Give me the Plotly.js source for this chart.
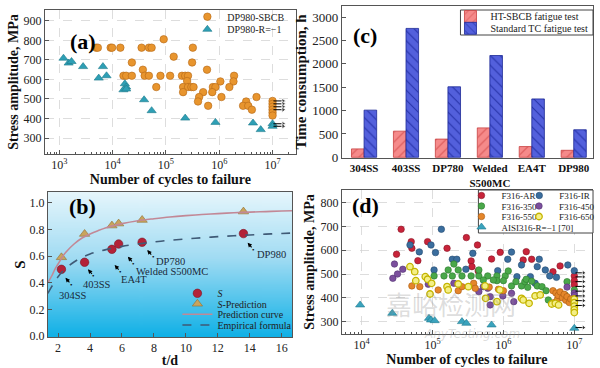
<!DOCTYPE html>
<html><head><meta charset="utf-8">
<script src="https://cdn.plot.ly/plotly-3.0.1.min.js"></script>
<style>html,body{margin:0;padding:0;background:#fff}#chart{width:600px;height:368px}</style>
</head><body><div id="chart"></div>
<script>
// ================= DATA =================
// (a) DP980 S-N data
const aSbcbN = [4.9e3,5.3e3,9.2e3,9.8e3,1.4e4,3.5e4,4.8e4,5.4e4,3.2e5, 9.1e4, 1.4e5, 2.3e4,3.1e5, 3.7e4,5.9e5,
  1.6e4,1.8e4,2.3e4,4.0e4,4.8e4,7.9e4,1.2e5,2.0e5,2.3e5,2.6e5,1.9e6, 2.5e5,1.05e6,1.85e6,
  6.6e4,2.1e5,2.6e5,3.0e5,3.3e5,7.6e5,8.5e5,1.55e6, 2.1e5,5.0e5,7.4e5, 4.2e5,1.1e6,5.0e6, 4.0e5,3.2e6,
  6.2e5,2.8e6,3.5e6, 4.1e6, 1e7,1e7,1e7,1e7,1e7,1e7];
const aSbcbS = [763,763,763,763,763,763,763,763,763, 806, 717, 687,687, 650,650,
  619,619,619,619,619,619,619,619,619,619,619, 592,590,590,
  561,561,561,561,561,561,561,561, 535,535,535, 510,510,510, 487,487,
  465,465,465, 445, 490,475,460,445,430,415];
const aRN = [1.2e3,1.5e3,1.7e3,2.8e3,5.5e3,6.6e3,7.7e3,1.7e4,1.8e4,1.6e4,1.8e4,3.9e4,5.4e4,2.3e5,8.5e5,4.3e6,6.0e6,1e7,1e7];
const aRS = [709,684,692,666,607,666,619,578,561,547,551,496,440,402,380,377,343,373,360];
const aRunoutSbcb = [490,475,460,445];
const aRunoutR = [373,360];
const runoutCycles = 1e7;
const aTickVals = [1e3,1e4,1e5,1e6,1e7];
const aTickText = ['10<sup>3</sup>','10<sup>4</sup>','10<sup>5</sup>','10<sup>6</sup>','10<sup>7</sup>'];

// (c) time consumption
const cMaterials = ['304SS','403SS','DP780','Welded<br>S500MC','EA4T','DP980'];
const cSbcbHours = [180,560,390,630,230,150];
const cStdHours = [1010,2760,1510,2180,1250,590];

// (b) S vs t/d
const bTd = [2.21,3.66,5.37,5.79,7.26,13.6];
const bS = [0.50,0.553,0.65,0.69,0.703,0.768];
const bSPred = [0.59,0.765,0.828,0.843,0.87,0.933];
const bLabels = ['304SS','403SS','EA4T','Welded S500MC','DP780','DP980'];
const predTd = [1.36,1.6,1.8,2.0,2.25,2.5,3.0,3.5,4.0,4.5,5.0,5.5,6.0,7.0,8.0,9.0,10,11,12,13,14,15,16,16.64];
const predS  = [0.40,0.45,0.50,0.54,0.59,0.63,0.69,0.735,0.765,0.79,0.812,0.828,0.843,0.865,0.88,0.893,0.903,0.911,0.918,0.924,0.929,0.933,0.937,0.939];
const empTd = [1.36,1.6,1.8,2.0,2.25,2.5,3.0,3.5,4.0,4.5,5.0,5.5,6.0,7.0,8.0,9.0,10,11,12,13,14,15,16,16.64];
const empS  = [0.32,0.37,0.41,0.445,0.48,0.51,0.555,0.59,0.615,0.633,0.648,0.66,0.672,0.69,0.705,0.718,0.728,0.737,0.745,0.752,0.758,0.764,0.769,0.772];

// (d) F316 S-N data
const dArN = [3.6e4,5.0e4,5.1e4,3.1e4,6.2e4,8.5e4,1.6e5,3.0e5,4.3e5,3.5e5,3.6e5,4.4e5,6.8e5,9.0e5,1.9e6,2.1e6,2.5e6,5.0e6,6.3e6,1e7,1e7,1e7];
const dArS = [688,636,608,583,556,636,608,653,622,555,531,513,563,591,559,594,562,510,534,492,472,455];
const dIrN = [4.8e4,6.5e4,9.5e4,1.1e5,1.05e5,1.33e5,1.9e5,2.2e5,2.95e5,3.7e5,8.3e5,1.15e6,1.3e6,1.55e6,1.8e6,2.4e6,2.8e6,3.0e6,3.2e6,3.9e6,4.5e6,5.6e6,8.1e6,1e7];
const dIrS = [622,593,622,590,517,688,562,562,520,587,514,562,592,489,538,489,461,531,562,517,492,486,538,514];
const d350N = [1.05e5,1.45e5,1.9e5,2.6e5,3.5e5,4.5e5,6.0e5,8.1e5,1.06e6,1.66e5,2.3e5,4.5e5,2.0e5,8.1e5,1.0e6,1.17e6,1.3e6,1.5e6,1.8e6,2.0e6,2.2e6,3.0e6,3.5e6,2.1e6,2.5e6,4.0e6,4.3e6,6.5e6,7.4e6,7.9e6,1e7,5.2e5,7.2e5];
const d350S = [492,492,492,492,492,492,492,492,492,517,517,517,542,472,472,513,450,468,450,468,444,450,447,478,470,430,391,412,412,468,433,475,475];
const d450N = [2.9e4,2.75e4,3.2e4,3.8e4,8.7e4,2.0e5,4.5e5,5.2e5,6.0e5,6.5e5,6.5e5,9.8e5,1.3e6,1.4e6,7.9e6,1e7,1e7];
const d450S = [542,482,500,520,457,461,426,447,440,405,370,408,419,384,445,420,410];
const d550N = [5.1e4,6.6e4,1.2e5,2.3e5,2.6e5,3.8e5,4.0e5,6.3e5,8.5e5,1.0e6,5.0e6,5.2e6,5.5e6,5.8e6,5.9e6,6.3e6,6.8e6,7.2e6,7.6e6,7.9e6,8.5e6,8.9e6,1e7,1e7,1e7];
const d550S = [450,447,433,430,447,461,440,445,436,430,430,380,420,395,410,425,400,415,390,405,380,395,385,370,355];
const d650N = [4.8e4,5.6e4,5.8e4,7.9e4,8.5e4,9.2e4,9.7e4,1.6e5,1.66e5,2.3e5,3.2e5,5.5e5,5.6e5,8.1e5,8.9e5,1.8e6,1.9e6,2.3e6,2.8e6,3.3e6,4.8e6,5.4e6,6.0e6,1e7,1e7,1e7,1e7,1e7];
const d650S = [531,510,472,489,478,416,461,447,433,458,447,450,398,384,433,398,391,377,408,412,374,377,370,395,380,365,350,338];
const dAisiN = [9.5e3,2.7e4,8.9e4,9.5e4,1.07e5,2.6e5,3.0e5,6.8e5,1e7];
const dAisiS = [370,335,314,307,304,300,293,286,272];
const dRunoutS = [505,488,468,448,428,408,388,368,275];
const dTickVals = [1e4,1e5,1e6,1e7];
const dTickText = ['10<sup>4</sup>','10<sup>5</sup>','10<sup>6</sup>','10<sup>7</sup>'];

// ================= STYLE / LAYOUT =================
const W = 600, H = 368;
const SERIF = '"Liberation Serif","Times New Roman",serif';
const px = v => v / W, py = v => 1 - v / H;

function ax(extra) {
  return Object.assign({
    showline: true, linecolor: '#555', linewidth: 1, mirror: true,
    ticks: 'inside', ticklen: 4, tickcolor: '#555', tickwidth: 1,
    tickfont: {family: SERIF, size: 12, color: '#222'},
    zeroline: false, automargin: false, showgrid: false
  }, extra);
}
const titleFont = {family: SERIF, size: 14, color: '#111'};
const gridStyle = {showgrid: true, gridcolor: '#d4d4d4', griddash: 'dash', gridwidth: 0.8};

const mk = (color, line, size, symbol) => ({color, size, symbol: symbol || 'circle', line: {color: line, width: 0.6}});

// run-out arrows (horizontal arrows starting at the run-out life)
function runoutTrace(list, xa, ya, decades) {
  const x = [], y = [], s = [];
  list.forEach(v => {
    x.push(runoutCycles * 1.04, runoutCycles * Math.pow(10, decades), null);
    y.push(v, v, null);
    s.push(0, 5, 0);
  });
  return {x, y, xaxis: xa, yaxis: ya, mode: 'lines+markers', showlegend: false, hoverinfo: 'skip',
    line: {color: '#000', width: 1}, marker: {symbol: 'triangle-right', size: s, color: '#000'}};
}

const traces = [
  // (a)
  {x: aSbcbN, y: aSbcbS, xaxis: 'x', yaxis: 'y', mode: 'markers', name: 'DP980-SBCB', legend: 'legend',
   marker: mk('#e8952e', '#b36615', 7.5)},
  {x: aRN, y: aRS, xaxis: 'x', yaxis: 'y', mode: 'markers', name: 'DP980-R=−1', legend: 'legend2',
   marker: mk('#2e9fb5', '#1d7a8c', 8, 'triangle-up')},
  // (c)
  {x: cMaterials, y: cSbcbHours, xaxis: 'x2', yaxis: 'y2', type: 'bar', name: 'HT-SBCB fatigue test', legend: 'legend3',
   marker: {color: '#f58383', line: {color: '#c84040', width: 0.8},
            pattern: {shape: '/', fgcolor: '#d95555', bgcolor: '#f58a8a', size: 7, solidity: 0.15}}},
  {x: cMaterials, y: cStdHours, xaxis: 'x2', yaxis: 'y2', type: 'bar', name: 'Standard TC fatigue test', legend: 'legend4',
   marker: {color: '#4c58d8', line: {color: '#1c2896', width: 0.8},
            pattern: {shape: '\\', fgcolor: '#2632a8', bgcolor: '#5360dc', size: 7, solidity: 0.15}}},
  // (b)
  {x: bTd, y: bS, xaxis: 'x3', yaxis: 'y3', mode: 'markers', name: '<i>S</i>', legend: 'legend5',
   marker: mk('#b32238', '#7c1424', 8.5)},
  {x: bTd, y: bSPred, xaxis: 'x3', yaxis: 'y3', mode: 'markers', name: '<i>S</i>-Prediction', legend: 'legend6',
   marker: mk('#c9a45c', '#8f6e30', 9, 'triangle-up')},
  {x: predTd, y: predS, xaxis: 'x3', yaxis: 'y3', mode: 'lines', name: 'Prediction curve', legend: 'legend7',
   line: {color: '#c28896', width: 1.6, shape: 'spline'}},
  {x: empTd, y: empS, xaxis: 'x3', yaxis: 'y3', mode: 'lines', name: 'Empirical formula', legend: 'legend8',
   line: {color: '#3f5a76', width: 1.6, dash: 'dash', shape: 'spline'}},
  // (d)
  {x: dArN, y: dArS, xaxis: 'x4', yaxis: 'y4', mode: 'markers', name: 'F316-AR', legend: 'legend9', marker: mk('#c8243a', '#8a1526', 6.5)},
  {x: dIrN, y: dIrS, xaxis: 'x4', yaxis: 'y4', mode: 'markers', name: 'F316-IR', legend: 'legend10', marker: mk('#3b6e9e', '#234a70', 6.5)},
  {x: d350N, y: d350S, xaxis: 'x4', yaxis: 'y4', mode: 'markers', name: 'F316-350', legend: 'legend11', marker: mk('#4aa84a', '#2d7a2d', 6.5)},
  {x: d450N, y: d450S, xaxis: 'x4', yaxis: 'y4', mode: 'markers', name: 'F316-450', legend: 'legend12', marker: mk('#7b4f9d', '#533270', 6.5)},
  {x: d550N, y: d550S, xaxis: 'x4', yaxis: 'y4', mode: 'markers', name: 'F316-550', legend: 'legend13', marker: mk('#e5862a', '#a85a12', 6.5)},
  {x: d650N, y: d650S, xaxis: 'x4', yaxis: 'y4', mode: 'markers', name: 'F316-650', legend: 'legend14',
   marker: {color: '#f4ef86', size: 6.5, symbol: 'circle', line: {color: '#c4b400', width: 1.3}}},
  {x: dAisiN, y: dAisiS, xaxis: 'x4', yaxis: 'y4', mode: 'markers', name: 'AISI316-R=−1 [70]', legend: 'legend15',
   marker: mk('#3aa3bd', '#1f7b91', 8, 'triangle-up')},
  // run-outs
  runoutTrace(aRunoutSbcb, 'x', 'y', 0.2),
  runoutTrace(aRunoutR, 'x', 'y', 0.2),
  runoutTrace(dRunoutS, 'x4', 'y4', 0.13)
];

// one single-entry legend per item, placed at [text-start px, row centre px, font size]
const legendSpots = {
  legend: [228, 16.7, 10], legend2: [228, 29.3, 10],
  legend3: [492, 16.5, 10], legend4: [492, 28.3, 10],
  legend5: [218, 293.3, 10], legend6: [218, 303.8, 10], legend7: [218, 314.3, 10], legend8: [218, 325, 10],
  legend9: [503, 195.5, 9], legend10: [561, 195.5, 9],
  legend11: [503, 206, 9], legend12: [561, 206, 9],
  legend13: [503, 216.5, 9], legend14: [561, 216.5, 9],
  legend15: [503, 227, 9]
};

const layout = {
  width: W, height: H, margin: {l: 0, r: 0, t: 0, b: 0},
  paper_bgcolor: '#fff', plot_bgcolor: 'rgba(0,0,0,0)',
  font: {family: SERIF, color: '#111'},
  showlegend: true, barmode: 'group', bargap: 0.4, bargroupgap: 0,
  // (a)
  xaxis: ax(Object.assign({domain: [px(45), px(297)], anchor: 'y', type: 'log', range: [2.73, 7.44],
    tickmode: 'array', tickvals: aTickVals, ticktext: aTickText,
    minor: {ticks: 'inside', ticklen: 2, tickcolor: '#555', dtick: 'D1', showgrid: false},
    title: {text: '<b>Number of cycles to failure</b>', font: titleFont, standoff: 0}}, gridStyle)),
  yaxis: ax(Object.assign({domain: [py(154), py(10)], anchor: 'x', range: [218, 956], dtick: 100, tick0: 0,
    title: {text: '<b>Stress amplitude, MPa</b>', font: titleFont, standoff: 1}}, gridStyle)),
  // (c)
  xaxis2: ax({domain: [px(343), px(595)], anchor: 'y2', type: 'category', range: [-0.53, 5.46], ticks: '',
    tickfont: {family: SERIF, size: 11, color: '#111', weight: 'bold'}}),
  yaxis2: ax({domain: [py(158), py(6)], anchor: 'x2', range: [-15, 3240], dtick: 500, tick0: 0,
    tickfont: {family: SERIF, size: 13, color: '#222'},
    title: {text: '<b>Time consumption, h</b>', font: {family: SERIF, size: 15, color: '#111'}, standoff: 2}}),
  // (b)
  xaxis3: ax({domain: [px(48), px(293)], anchor: 'y3', range: [1.36, 16.64], dtick: 2, tick0: 0,
    title: {text: '<b>t/d</b>', font: titleFont, standoff: 0}}),
  yaxis3: ax({domain: [py(337), py(192)], anchor: 'x3', range: [-0.0075, 1.08], dtick: 0.2, tick0: 0, tickformat: '.1f',
    title: {text: '<b>S</b>', font: {family: SERIF, size: 15, color: '#111'}, standoff: 0}}),
  // (d)
  xaxis4: ax(Object.assign({domain: [px(343), px(594)], anchor: 'y4', type: 'log', range: [3.72, 7.25],
    tickmode: 'array', tickvals: dTickVals, ticktext: dTickText,
    minor: {ticks: 'inside', ticklen: 2, tickcolor: '#555', dtick: 'D1', showgrid: false},
    title: {text: '<b>Number of cycles to failure</b>', font: titleFont, standoff: 0}}, gridStyle)),
  yaxis4: ax(Object.assign({domain: [py(334), py(190)], anchor: 'x4', range: [248, 853], dtick: 100, tick0: 0,
    title: {text: '<b>Stress amplitude, MPa</b>', font: titleFont, standoff: 2}}, gridStyle)),
  shapes: [
    {type: 'rect', xref: 'paper', yref: 'paper', x0: px(462), x1: px(595), y0: py(35), y1: py(10),
     line: {color: '#444', width: 1}, fillcolor: '#fff', layer: 'above'},
    {type: 'rect', xref: 'paper', yref: 'paper', x0: px(480), x1: px(595), y0: py(233), y1: py(190),
     line: {color: '#444', width: 1}, fillcolor: '#fff', layer: 'above'}
  ],
  annotations: [],
  images: []
};

Object.keys(legendSpots).forEach(id => {
  const [tx, ty, fs] = legendSpots[id];
  layout[id] = {x: px(tx - 40), y: py(ty), xanchor: 'left', yanchor: 'middle', bgcolor: 'rgba(0,0,0,0)',
    borderwidth: 0, itemsizing: 'trace', font: {family: SERIF, size: fs, color: '#222'}};
});

// panel letters
[['(a)', 68, 27], ['(c)', 366, 21], ['(b)', 67, 206], ['(d)', 367, 205]].forEach(([t, x, y]) => {
  layout.annotations.push({xref: 'paper', yref: 'paper', x: px(x), y: py(y), text: '<b>' + t + '</b>',
    showarrow: false, font: {family: SERIF, size: 22, color: '#000'}});
});

// (b) material labels + small pointer arrows (dot tail, arrow head toward the curve)
const bLabelPos = [[2.94, 0.304], [4.45, 0.383], [6.77, 0.422], [9.13, 0.486], [9.02, 0.561], [15.35, 0.611]];
const bPointer = [[2.46, 0.437], [3.87, 0.50], [5.54, 0.533], [6.37, 0.595], [7.58, 0.645], [13.86, 0.70]];
bLabels.forEach((t, i) => {
  layout.annotations.push({xref: 'x3', yref: 'y3', x: bLabelPos[i][0], y: bLabelPos[i][1], text: t,
    showarrow: false, font: {family: SERIF, size: 10.5, color: '#1a2a3a'}});
  layout.annotations.push({xref: 'x3', yref: 'y3', x: bPointer[i][0], y: bPointer[i][1], text: '•',
    showarrow: true, ax: 6, ay: 7, arrowhead: 2, arrowsize: 0.8, arrowwidth: 1.1, arrowcolor: '#000', standoff: 0,
    borderpad: 0, font: {family: SERIF, size: 7, color: '#000'}});
});

// watermark
layout.annotations.push({xref: 'paper', yref: 'paper', x: px(520), y: py(324), text: '嘉峪检测网', showarrow: false,
  font: {family: '"Noto Sans CJK SC", sans-serif', size: 26, color: 'rgba(140,140,140,0.30)'}});
layout.annotations.push({xref: 'paper', yref: 'paper', x: px(524), y: py(343), text: '<i>AnyTesting.com</i>', showarrow: false,
  font: {family: '"DejaVu Sans", sans-serif', size: 12, color: 'rgba(140,140,140,0.30)'}});

// (b) gradient background
const cv = document.createElement('canvas'); cv.width = 4; cv.height = 256;
const ctx = cv.getContext('2d');
const g = ctx.createLinearGradient(0, 0, 0, 256);
g.addColorStop(0, '#e6f6fc'); g.addColorStop(0.45, '#a2dcf3'); g.addColorStop(1, '#0fb0e6');
ctx.fillStyle = g; ctx.fillRect(0, 0, 4, 256);
layout.images.push({source: cv.toDataURL(), xref: 'x3 domain', yref: 'y3 domain', x: 0, y: 1, sizex: 1, sizey: 1,
  xanchor: 'left', yanchor: 'top', sizing: 'stretch', layer: 'below'});

Plotly.newPlot('chart', traces, layout, {displayModeBar: false, staticPlot: true});
</script></body></html>
